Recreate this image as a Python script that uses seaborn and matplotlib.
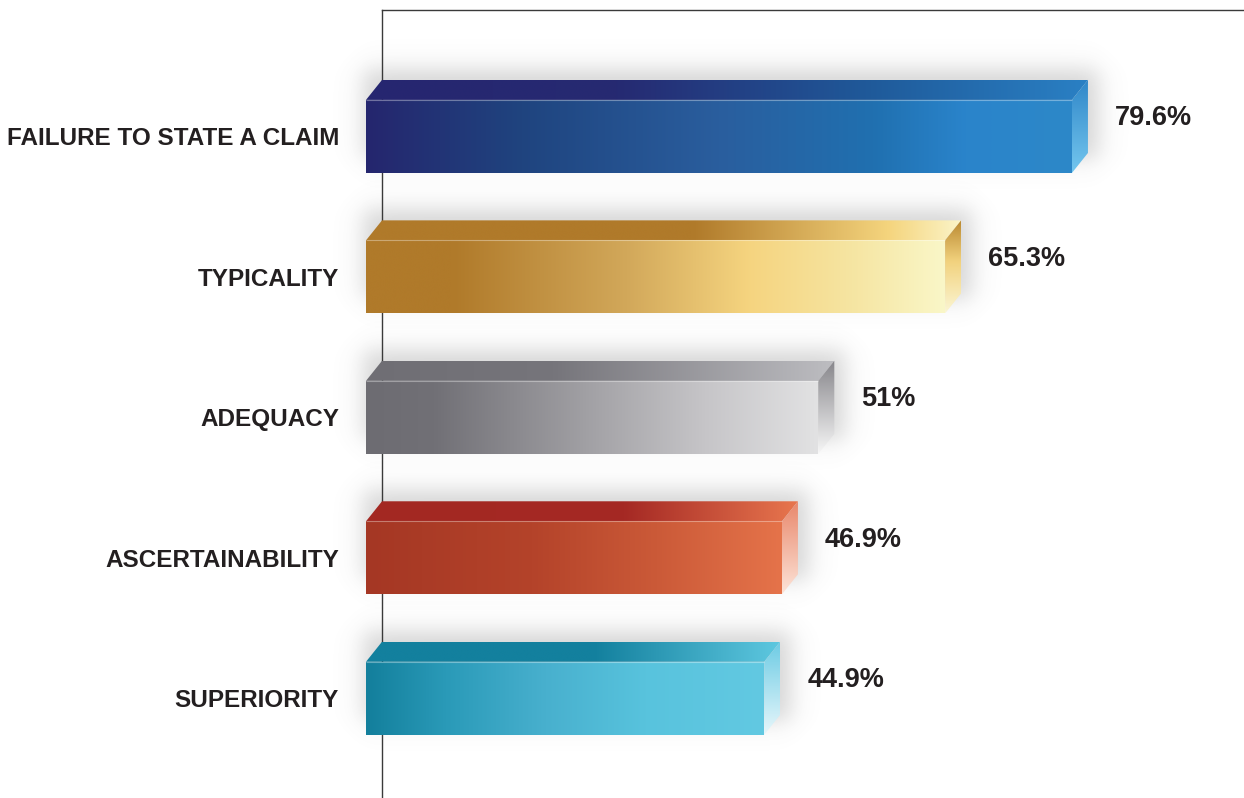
import numpy as np
import pandas as pd
import matplotlib
matplotlib.use("Agg")
import matplotlib.pyplot as plt
from matplotlib.colors import LinearSegmentedColormap
from matplotlib.patches import Polygon
import seaborn as sns

# ---- data -------------------------------------------------------------
categories = [
    "FAILURE TO STATE A CLAIM",
    "TYPICALITY",
    "ADEQUACY",
    "ASCERTAINABILITY",
    "SUPERIORITY",
]
values = [79.6, 65.3, 51.0, 46.9, 44.9]
value_labels = ["79.6%", "65.3%", "51%", "46.9%", "44.9%"]

# ---- colour ramps for each bar (front, top, side) ---------------------
front_ramps = [
    [(0, "#25266e"), (0.22, "#1f447f"), (0.5, "#2a5e9e"), (0.72, "#2070b0"), (0.85, "#2a84cb"), (1, "#2d88c8")],
    [(0, "#b07a2a"), (0.15, "#b07a2a"), (0.45, "#d2a85a"), (0.66, "#f5d47f"), (0.85, "#f6e6a4"), (1, "#faf7c8")],
    [(0, "#6d6c72"), (0.15, "#717076"), (0.5, "#a3a2a6"), (0.75, "#c6c5c8"), (1, "#e2e2e3")],
    [(0, "#a53724"), (0.4, "#b4432a"), (0.7, "#cb5a38"), (1, "#e5734a")],
    [(0, "#137f9c"), (0.2, "#2a9ab8"), (0.45, "#48b0ce"), (0.7, "#58c3dd"), (1, "#62c9e2")],
]
top_ramps = [
    [(0, "#262670"), (0.35, "#262a72"), (0.7, "#1f5a9a"), (1, "#2a80c4")],
    [(0, "#b07a2a"), (0.55, "#b07a2a"), (0.88, "#f5d57e"), (1, "#fbf4c8")],
    [(0, "#6f6e74"), (0.4, "#76757b"), (1, "#bdbdc1")],
    [(0, "#a32822"), (0.6, "#a52924"), (1, "#e8764e")],
    [(0, "#13809e"), (0.55, "#13809e"), (1, "#5ec8e0")],
]
side_ramps = [
    [(0, "#2f86c8"), (1, "#74c7ef")],
    [(0, "#b8862e"), (0.45, "#f2d27e"), (1, "#fbf6d4")],
    [(0, "#86858a"), (1, "#f7f7f7")],
    [(0, "#e8866a"), (1, "#fde4d8")],
    [(0, "#6ccbe4"), (1, "#e8f7fb")],
]

W, H, DPI = 1244, 798, 100
DEPTH_X, DEPTH_Y = 16, 20        # 3-D extrusion, pixels
XMAX = 99.0

sns.set_style("white")
plt.rcParams["font.family"] = ["Liberation Sans", "DejaVu Sans"]

fig = plt.figure(figsize=(W / DPI, H / DPI), dpi=DPI)
ax_left, ax_top = 366, 10
ax = fig.add_axes([ax_left / W, 0, (W - ax_left) / W, (H - ax_top) / H])

df = pd.DataFrame({"category": categories, "share": values})
sns.barplot(data=df, x="share", y="category", orient="h", width=0.52,
            color="white", saturation=1, edgecolor="none", ax=ax, zorder=3)

ax.set_xlim(0, XMAX)
ax.set_ylim(4.71, -0.9)

ax_w_px = W - ax_left
ax_h_px = H - ax_top
px_x = XMAX / ax_w_px                 # data units per pixel along x
px_y = (4.71 + 0.9) / ax_h_px         # data units per pixel along y
dx = DEPTH_X * px_x
dy = DEPTH_Y * px_y


def gradient(stops, vertical=False, n=256):
    cmap = LinearSegmentedColormap.from_list("r", stops)
    g = cmap(np.linspace(0, 1, n))
    return g[:, None, :] if vertical else g[None, :, :]


def paint(poly_xy, extent, img, z):
    poly = Polygon(poly_xy, closed=True, facecolor="none", edgecolor="none")
    ax.add_patch(poly)
    im = ax.imshow(img, extent=extent, aspect="auto", interpolation="bicubic",
                   origin="upper", zorder=z)
    im.set_clip_path(poly)


def soft_edge(t, s):
    return 1.0 / (1.0 + np.exp(-t / s))


bars = list(ax.patches)[: len(values)]
for i, p in enumerate(bars):
    x0, w = p.get_x(), p.get_width()
    y0, h = p.get_y(), p.get_height()
    x1, y1 = x0 + w, y0 + h

    # soft blurred shadow behind the extruded box (pixel grid, top-left origin)
    m = 50
    bw, bh = (w + dx) / px_x, (h + dy) / px_y
    gx = np.arange(-m, bw + m)
    gy = np.arange(-m, bh + m)
    s = 7.0
    fx = soft_edge(gx + 3, s) * soft_edge((bw + 10) - gx, s)
    fy = soft_edge(gy + 10, s) * soft_edge((bh - 14) - gy, s)
    alpha = 0.30 * fy[:, None] * fx[None, :]
    sh = np.zeros(alpha.shape + (4,))
    sh[..., :3] = 0.45
    sh[..., 3] = alpha
    ax.imshow(sh, extent=[x0 - m * px_x, x0 + (bw + m) * px_x,
                          y0 - dy + (bh + m) * px_y, y0 - dy - m * px_y],
              aspect="auto", interpolation="bilinear", origin="upper",
              zorder=1, clip_on=False)

    # front face
    paint([(x0, y0), (x1, y0), (x1, y1), (x0, y1)],
          [x0, x1, y1, y0], gradient(front_ramps[i]), 3)
    # top face
    paint([(x0, y0), (x1, y0), (x1 + dx, y0 - dy), (x0 + dx, y0 - dy)],
          [x0, x1 + dx, y0, y0 - dy], gradient(top_ramps[i]), 3)
    # right side face
    paint([(x1, y0), (x1 + dx, y0 - dy), (x1 + dx, y1 - dy), (x1, y1)],
          [x1, x1 + dx, y1, y0 - dy], gradient(side_ramps[i], vertical=True), 3)
    # light seam between top and front
    ax.plot([x0, x1], [y0, y0], color="white", lw=0.8, alpha=0.35, zorder=4,
            solid_capstyle="butt")

    ax.text(x1 + 43 * px_x, (y0 + y1) / 2 - 18 * px_y, value_labels[i],
            ha="left", va="center", fontsize=19.5, fontweight="bold",
            color="#231f20", zorder=5)

# axis frame: vertical rule behind the bars and a rule along the top
for s_ in ("right", "bottom"):
    ax.spines[s_].set_visible(False)
ax.spines["left"].set_position(("data", dx))
ax.spines["left"].set_color("#3a3a3a")
ax.spines["left"].set_linewidth(1.0)
ax.spines["left"].set_zorder(2)
ax.spines["top"].set_bounds(dx, XMAX)
ax.spines["top"].set_color("#3a3a3a")
ax.spines["top"].set_linewidth(1.0)

ax.set_xticks([])
ax.set_xlabel("")
ax.set_ylabel("")
ax.tick_params(axis="y", length=0, pad=31)
for lab in ax.get_yticklabels():
    lab.set_fontsize(17.5)
    lab.set_fontweight("bold")
    lab.set_color("#231f20")
ax.set_facecolor("white")
fig.patch.set_facecolor("white")

fig.savefig("out.png", dpi=DPI, facecolor="white")
